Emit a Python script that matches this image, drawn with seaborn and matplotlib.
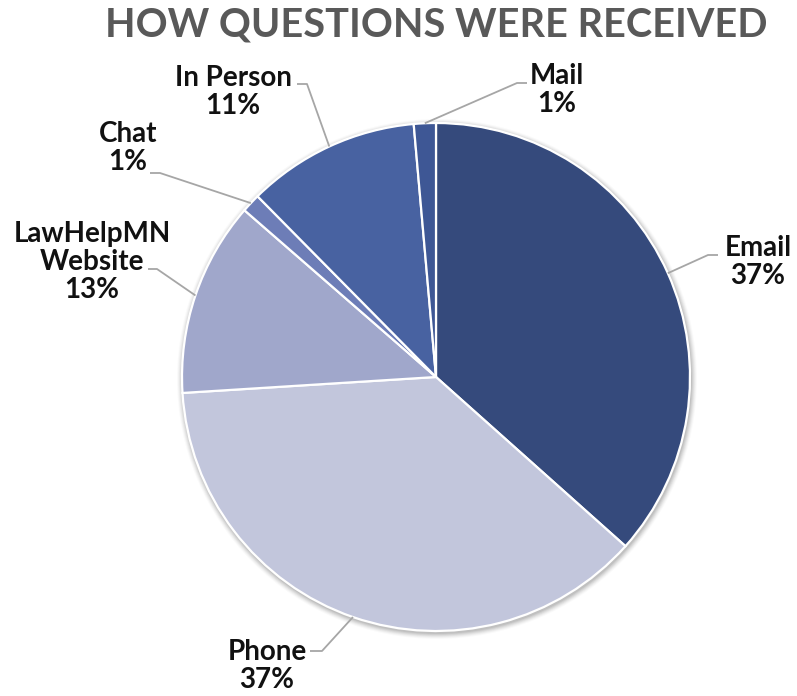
import numpy as np
import seaborn as sns
import matplotlib.pyplot as plt
import matplotlib.patches as mpatches

# DATA
categories = ["Email", "Phone", "LawHelpMN\nWebsite", "Chat", "In Person", "Mail"]
shares = [36.6, 37.4, 12.4, 1.2, 11.0, 1.4]
pct_labels = ["37%", "37%", "13%", "1%", "11%", "1%"]
colors = ["#354A7C", "#C2C6DC", "#A0A7CB", "#6D7DB7", "#4862A1", "#3E5795"]

# LAYOUT (pixel coords, origin top-left): text centre, elbow, end of short horizontal
label_text = [(758, 262), (267, 666), (92, 262), (128, 148), (233, 92), (557, 90)]
label_elbow = [(708, 255), (322, 651), (157, 269), (160, 173), (307, 84), (517, 83)]
label_end = [(718, 255), (310, 651), (148, 269), (150, 173), (297, 84), (527, 83)]

W, H = 797, 696
CX, CY, R = 436, 377, 254

sns.set_theme(style="white")
plt.rcParams["font.family"] = ["Lato", "DejaVu Sans"]

fig = plt.figure(figsize=(W / 100, H / 100), dpi=100)
ax = fig.add_axes([0, 0, 1, 1])

center = (CX, H - CY)

# soft shadow round the pie
for k, a in zip(range(6, 0, -1), [0.02, 0.03, 0.04, 0.05, 0.06, 0.07]):
    ax.add_patch(mpatches.Circle((center[0] + 1, center[1] - 2), R + k,
                                 color="#000000", alpha=a, lw=0, zorder=0))

wedges, _ = ax.pie(shares, colors=colors, startangle=90, counterclock=False,
                   center=center, radius=R, frame=True,
                   wedgeprops=dict(edgecolor="white", linewidth=1.6))
ax.set_xlim(0, W)
ax.set_ylim(0, H)
ax.set_aspect("equal")
ax.axis("off")

for w, cat, pct, (tx, ty), (ex, ey), (hx, hy) in zip(
        wedges, categories, pct_labels, label_text, label_elbow, label_end):
    mid = np.deg2rad((w.theta1 + w.theta2) / 2)
    px = center[0] + R * np.cos(mid)
    py = center[1] + R * np.sin(mid)
    ax.plot([px, ex, hx], [py, H - ey, H - hy], color="#A6A6A6", lw=1.3,
            solid_capstyle="butt", zorder=3)
    ax.text(tx, H - ty, cat + "\n" + pct, ha="center", va="center",
            fontsize=20, fontweight="bold", color="#111111", linespacing=1.1)

fig.text(436 / W, 1 - 25 / H, "HOW QUESTIONS WERE RECEIVED", ha="center", va="center",
         fontsize=28.5, fontweight="bold", color="#595959")

fig.savefig("out.png", dpi=100)
